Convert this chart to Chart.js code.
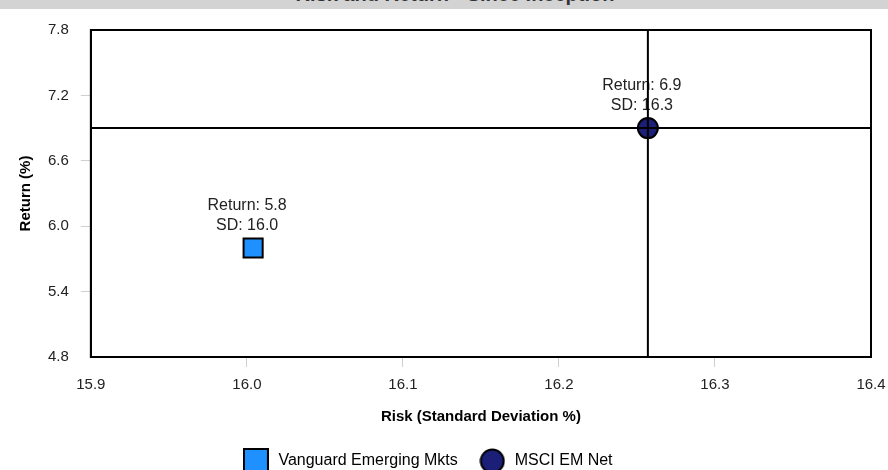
<!DOCTYPE html>
<html>
<head>
<meta charset="utf-8">
<script src="https://cdn.jsdelivr.net/npm/chart.js@4.4.1/dist/chart.umd.min.js"></script>
<style>
  html, body { margin: 0; padding: 0; background: #fff; overflow: hidden; }
  #wrap { position: relative; width: 888px; height: 470px; overflow: hidden; }
  #titleBar {
    position: absolute; left: 0; top: 0; width: 888px; height: 9px;
    background: #d3d3d3; z-index: 2;
  }
  #titleBar span {
    position: absolute; top: -16.5px; left: 455px; transform: translateX(-50%);
    font: bold 20px Arial, "Liberation Sans", sans-serif; line-height: 20px;
    color: #333; white-space: nowrap;
  }
  #chart { position: absolute; left: 0; top: 0; }
</style>
</head>
<body>
<div id="wrap">
  <div id="titleBar"><span>Risk and Return - Since Inception</span></div>
  <canvas id="chart" width="888" height="480"></canvas>
</div>
<script>
// data
const seriesNames = ["Vanguard Emerging Mkts", "MSCI EM Net"];
const riskSD = [16.004, 16.257];
const returnPct = [5.8, 6.9];
const seriesColors = ["#1E90FF", "#1C1F78"];
const seriesStyles = ["rect", "circle"];

const xMin = 15.9, xMax = 16.4, xStep = 0.1;
const yMin = 4.8, yMax = 7.8, yStep = 0.6;

// the benchmark point gets the crosshair
const benchmarkIndex = 1;

Chart.defaults.font.family = 'Arial, "Liberation Sans", sans-serif';
Chart.defaults.color = "#222";

// legend marker images (square / circle with black outline)
function makeMarker(style, color) {
  const c = document.createElement("canvas");
  c.width = 26;
  c.height = 26;
  const g = c.getContext("2d");
  g.fillStyle = color;
  g.strokeStyle = "#000";
  g.lineWidth = 2;
  if (style === "rect") {
    g.fillRect(1, 1, 24, 24);
    g.strokeRect(1, 1, 24, 24);
  } else {
    g.beginPath();
    g.arc(13, 13, 11.5, 0, Math.PI * 2);
    g.fill();
    g.stroke();
  }
  return c;
}
const legendMarkers = seriesStyles.map((s, i) => makeMarker(s, seriesColors[i]));

const edgeTick = (ctx, color) => {
  const n = ctx.scale.ticks.length;
  return ctx.index === 0 || ctx.index === n - 1 ? "rgba(0,0,0,0)" : color;
};

const riskReturnPlugin = {
  id: "riskReturn",
  afterLayout(chart) {
    // reference legend sits a bit left of centre
    const lg = chart.legend;
    lg.left -= 15;
    lg.right -= 15;
  },
  afterDatasetsDraw(chart) {
    const { ctx, chartArea } = chart;
    const xs = chart.scales.x, ys = chart.scales.y;

    // value labels above each point
    ctx.save();
    ctx.fillStyle = "#222";
    ctx.font = '16px Arial, "Liberation Sans", sans-serif';
    ctx.textAlign = "center";
    ctx.textBaseline = "alphabetic";
    riskSD.forEach((sd, i) => {
      const px = xs.getPixelForValue(sd) - 6;
      const py = ys.getPixelForValue(returnPct[i]);
      ctx.fillText("Return: " + returnPct[i].toFixed(1), px, py - 38);
      ctx.fillText("SD: " + sd.toFixed(1), px, py - 18);
    });
    ctx.restore();

    // crosshair through the benchmark
    const bx = xs.getPixelForValue(riskSD[benchmarkIndex]);
    const by = ys.getPixelForValue(returnPct[benchmarkIndex]);
    ctx.save();
    ctx.strokeStyle = "#000";
    ctx.lineWidth = 2;
    ctx.beginPath();
    ctx.moveTo(chartArea.left, by);
    ctx.lineTo(chartArea.right, by);
    ctx.moveTo(bx, chartArea.top);
    ctx.lineTo(bx, chartArea.bottom);
    ctx.stroke();
    ctx.strokeRect(chartArea.left, chartArea.top,
      chartArea.right - chartArea.left, chartArea.bottom - chartArea.top);
    ctx.restore();
  },
};

const datasets = seriesNames.map((name, i) => ({
  label: name,
  data: [{ x: riskSD[i], y: returnPct[i] }],
  pointStyle: seriesStyles[i],
  backgroundColor: seriesColors[i],
  borderColor: "#000",
  borderWidth: 2,
  pointRadius: i === 0 ? 13.5 : 10,
  pointHoverRadius: i === 0 ? 13.5 : 10,
}));

new Chart(document.getElementById("chart").getContext("2d"), {
  type: "scatter",
  data: { datasets },
  options: {
    responsive: false,
    animation: false,
    layout: { padding: { top: 30, right: 17, bottom: 1, left: 13 } },
    plugins: {
      tooltip: { enabled: false },
      legend: {
        position: "bottom",
        labels: {
          usePointStyle: true,
          pointStyleWidth: 29,
          padding: 20,
          color: "#222",
          font: { size: 16 },
          generateLabels: (chart) =>
            chart.data.datasets.map((ds, i) => ({
              text: ds.label,
              pointStyle: legendMarkers[i],
              fillStyle: seriesColors[i],
              strokeStyle: "#000",
              lineWidth: 0,
              hidden: false,
              datasetIndex: i,
            })),
        },
      },
    },
    scales: {
      x: {
        type: "linear",
        min: xMin,
        max: xMax,
        afterFit: (scale) => {
          // edge labels may overhang into the layout padding
          scale.paddingLeft = 0;
          scale.paddingRight = 0;
        },
        ticks: {
          stepSize: xStep,
          padding: 9,
          font: { size: 15 },
          callback: (v) => Number(v).toFixed(1),
        },
        grid: {
          drawOnChartArea: false,
          tickLength: 10,
          tickColor: (ctx) => edgeTick(ctx, "#cfcfcf"),
        },
        border: { color: "#000", width: 2 },
        title: {
          display: true,
          text: "Risk (Standard Deviation %)",
          color: "#000",
          font: { size: 15, weight: "bold" },
          padding: { top: 5, bottom: 7 },
        },
      },
      y: {
        type: "linear",
        min: yMin,
        max: yMax,
        ticks: {
          stepSize: yStep,
          padding: 12,
          font: { size: 15 },
          callback: (v) => Number(v).toFixed(1),
        },
        grid: {
          drawOnChartArea: false,
          tickLength: 10,
          tickColor: (ctx) => edgeTick(ctx, "#cfcfcf"),
        },
        border: { color: "#000", width: 2 },
        title: {
          display: true,
          text: "Return (%)",
          color: "#000",
          font: { size: 15, weight: "bold" },
          padding: { top: 4, bottom: 1 },
        },
      },
    },
  },
  plugins: [riskReturnPlugin],
});
</script>
</body>
</html>
